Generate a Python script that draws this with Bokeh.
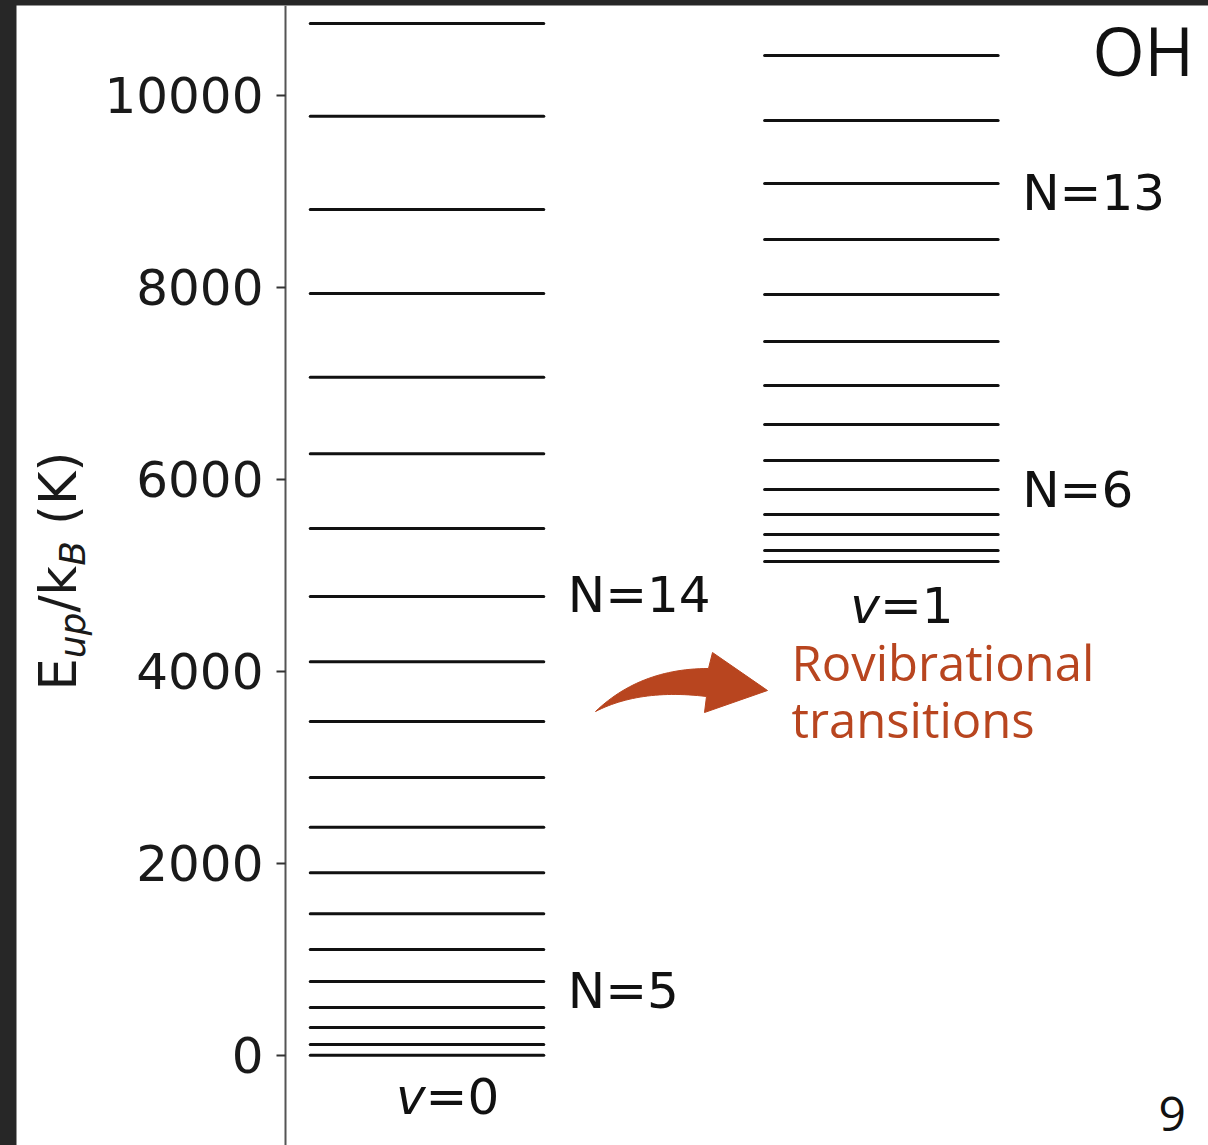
import math
import numpy as np
from bokeh.plotting import figure
from bokeh.models import Range1d, ColumnDataSource, Label, FixedTicker
from bokeh.layouts import column
from bokeh.embed import file_html
from bokeh.resources import INLINE
from bokeh.core.properties import value

# ---- data: OH upper-state energies E_up/k_B (K) --------------------------
ladders = ["v=0", "v=1"]
levels_v0 = [10747, 9781, 8809, 7934, 7063, 6265, 5486, 4778, 4098, 3476,
             2893, 2375, 1900, 1473, 1101, 768, 497, 289, 111, 0]
levels_v1 = [10414, 9736, 9080, 8497, 7924, 7434, 6976, 6570, 6195, 5893,
             5632, 5424, 5257, 5143]
y_ticks = [0, 2000, 4000, 6000, 8000, 10000]

# rotational quantum-number tags: (text, ladder index, index of tagged level)
n_tag_text = ["N=14", "N=5", "N=13", "N=6"]
n_tag_ladder = [0, 0, 1, 1]
n_tag_level = [7, 15, 2, 9]

# ---- layout ----------------------------------------------------------------
PAGE_W, PAGE_H = 1208, 1145
PAD_L, PAD_T = 16, 5                # dark slide frame
FIG_W, FIG_H = PAGE_W - PAD_L, PAGE_H - PAD_T
FRAME_L = PAD_L                     # page x where the plotting frame starts
AXIS_PX = 285                       # page x of the energy axis
FRAME_W = PAGE_W - FRAME_L
FRAME_H = FIG_H

PX_PER_X = 233.5                    # one ladder width
LADDER_X = [0.0, 1.946]             # ladder centres
X_START = -(426.5 - FRAME_L) / PX_PER_X
X_END = X_START + FRAME_W / PX_PER_X

PX_PER_Y = 0.096                    # pixels per kelvin
ZERO_PY = 1054.7                    # page y of E = 0
Y_END = (ZERO_PY - PAD_T) / PX_PER_Y
Y_START = Y_END - FRAME_H / PX_PER_Y


def xp(px):
    """page x pixel -> data x"""
    return X_START + (px - FRAME_L) / PX_PER_X


def yp(py):
    """page y pixel -> data y"""
    return (ZERO_PY - py) / PX_PER_Y


RED = "#B8451F"
INK = "#111111"
MPL_FONT = value("DejaVu Sans")
SLIDE_FONT = "Open Sans"

p = figure(width=FIG_W, height=FIG_H, output_backend="svg", toolbar_location=None,
           x_range=Range1d(X_START, X_END), y_range=Range1d(Y_START, Y_END),
           x_axis_location=None, min_border_left=0,
           min_border_right=0, min_border_top=0, min_border_bottom=0,
           background_fill_color="white", border_fill_color="white",
           outline_line_color=None)
p.margin = (PAD_T, 0, 0, PAD_L)
p.grid.visible = False

ax = p.yaxis[0]
ax.fixed_location = xp(AXIS_PX)
ax.ticker = FixedTicker(ticks=y_ticks, minor_ticks=[])
ax.axis_line_color = "#555555"
ax.axis_line_width = 2
ax.major_tick_line_color = "#333333"
ax.major_tick_line_width = 2
ax.major_tick_in = 0
ax.major_tick_out = 9
ax.minor_tick_line_color = None
ax.major_label_standoff = 13
ax.major_label_text_font = "DejaVu Sans"
ax.major_label_text_font_size = "50px"
ax.major_label_text_color = "#1a1a1a"

# ---- energy levels -----------------------------------------------------------
half = 0.5
for li, levels in enumerate([levels_v0, levels_v1]):
    cx = LADDER_X[li]
    src = ColumnDataSource(dict(x0=[cx - half] * len(levels), x1=[cx + half] * len(levels),
                                y=levels))
    p.segment(x0="x0", y0="y", x1="x1", y1="y", source=src,
              line_color=INK, line_width=3, line_cap="round")

# N tags right of the ladders
tag_nudge_px = [-1.5, 10, 9, 1]
tag_gap = 24 / PX_PER_X
tag_src = ColumnDataSource(dict(
    x=[LADDER_X[l] + half + tag_gap for l in n_tag_ladder],
    y=[([levels_v0, levels_v1][l][k]) - d / PX_PER_Y
       for l, k, d in zip(n_tag_ladder, n_tag_level, tag_nudge_px)],
    t=n_tag_text))
p.text(x="x", y="y", text="t", source=tag_src, text_font=MPL_FONT,
       text_font_size="50px", text_color=INK, text_align="left",
       text_baseline="middle")

# vibrational labels under each ladder: italic v followed by "=n"
vib_y = [min(levels_v0) - 42 / PX_PER_Y, min(levels_v1) - 45 / PX_PER_Y]
vib_src = ColumnDataSource(dict(x=[c - 1.5 / PX_PER_X for c in LADDER_X], y=vib_y,
                                v=["v", "v"], rest=[s[1:] for s in ladders]))
p.text(x="x", y="y", text="v", source=vib_src, text_font=MPL_FONT,
       text_font_style="italic", text_font_size="50px", text_color=INK,
       text_align="right", text_baseline="middle")
p.text(x="x", y="y", text="rest", source=vib_src, text_font=MPL_FONT,
       text_font_size="50px", text_color=INK, text_align="left",
       text_baseline="middle")

# ---- axis title  E_up/k_B (K), built from pieces, reading upwards -----------
fs, fs_sub = 51, 36
main_cx, sub_cx = 58, 72            # page x of the glyph centre lines
# (text, size, style, centre line, advance in em, extra leading gap in em)
pieces = [("E", fs, "normal", main_cx, 0.632, 0.0),
          ("up", fs_sub, "italic", sub_cx, 0.634 + 0.635, 0.0),
          ("/k", fs, "normal", main_cx, 0.337 + 0.579, 0.0),
          ("B", fs_sub, "italic", sub_cx, 0.686, 0.0),
          ("(K)", fs, "normal", main_cx, 0.390 + 0.656 + 0.390, 0.318)]
run_py = 690.0
for txt, size, style, cxp, em, gap in pieces:
    run_py -= gap * size
    p.add_layout(Label(x=xp(cxp), y=yp(run_py), text=txt, angle=math.pi / 2,
                       text_font="DejaVu Sans", text_font_size=f"{size}px",
                       text_font_style=style, text_color="#1a1a1a",
                       text_align="left", text_baseline="middle"))
    run_py -= em * size

# ---- curved arrow and annotation ---------------------------------------------
def qbez(p0, c, p2, n=30):
    t = np.linspace(0, 1, n)
    bx = (1 - t) ** 2 * p0[0] + 2 * (1 - t) * t * c[0] + t ** 2 * p2[0]
    by = (1 - t) ** 2 * p0[1] + 2 * (1 - t) * t * c[1] + t ** 2 * p2[1]
    return list(bx), list(by)

ux, uy = qbez((595, 711), (640, 668), (708, 668))
lx, ly = qbez((706, 696), (640, 688), (595, 711))
arrow_px = ux + [712, 767, 704] + lx
arrow_py = uy + [652, 690, 712] + ly
p.patch([xp(v) for v in arrow_px], [yp(v) for v in arrow_py],
        fill_color=RED, line_color=RED, line_width=1)

for txt, cy in [("Rovibrational", 661), ("transitions", 718)]:
    p.add_layout(Label(x=xp(791), y=yp(cy), text=txt, text_font=SLIDE_FONT,
                       text_font_size="49px", text_color=RED,
                       text_align="left", text_baseline="middle"))

p.add_layout(Label(x=xp(1092), y=yp(49), text="OH", text_font=SLIDE_FONT,
                   text_font_size="67px", text_color="#111111",
                   text_align="left", text_baseline="middle"))

# slide number
p.add_layout(Label(x=xp(1158), y=yp(1113), text="9", text_font=SLIDE_FONT,
                   text_font_size="48px", text_color="#111111",
                   text_align="left", text_baseline="middle"))

page = column(p, styles={"background-color": "#272727"})
open("out.html", "w").write(file_html(page, INLINE))
